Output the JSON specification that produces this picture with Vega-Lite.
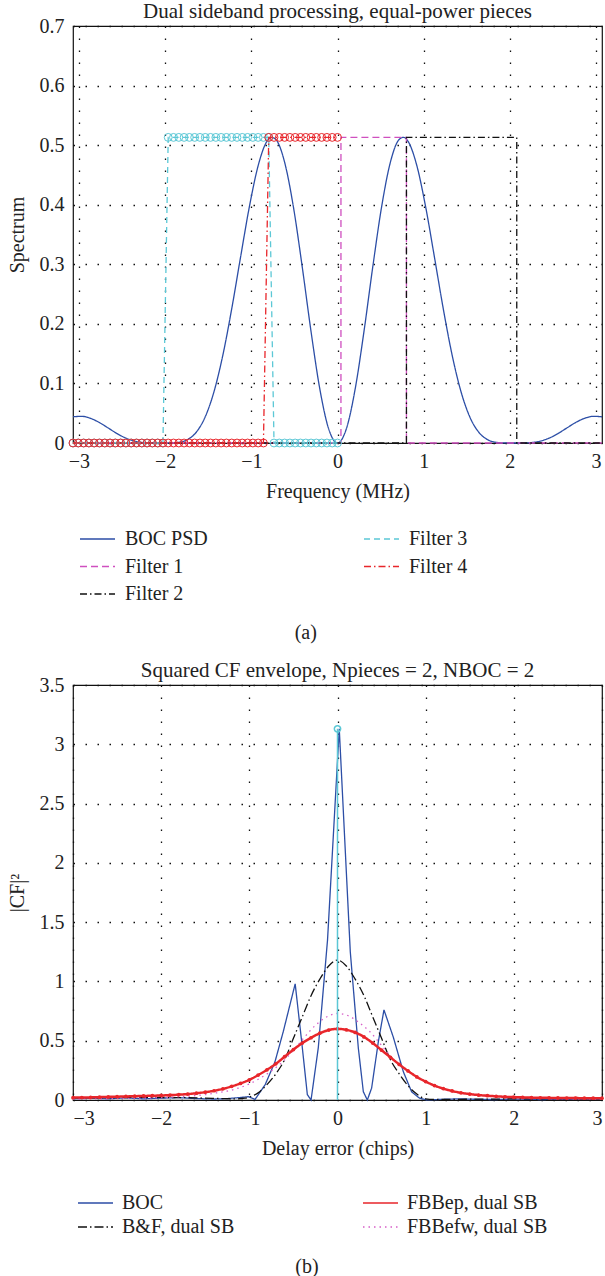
{
  "$schema": "https://vega.github.io/schema/vega-lite/v6.json",
  "padding": {"left": 6, "top": 0, "right": 0, "bottom": 0},
  "background": "white",
  "spacing": 16,
  "config": {
    "font": "Liberation Serif, DejaVu Serif, serif",
    "view": {"stroke": "#111", "strokeWidth": 1.2},
    "axis": {"labelFont": "Liberation Serif, DejaVu Serif, serif", "labelFontSize": 20, "labelColor": "#222", "titleFont": "Liberation Serif, DejaVu Serif, serif", "titleFontSize": 20, "titleFontWeight": "normal", "titleColor": "#222", "grid": true, "gridColor": "#111", "gridDash": [1.5, 10.5], "gridWidth": 1.3, "domain": false, "ticks": false},
    "axisX": {"labelPadding": 8, "titlePadding": 10},
    "axisY": {"labelPadding": 9, "titlePadding": 12},
    "title": {"font": "Liberation Serif, DejaVu Serif, serif", "fontSize": 21, "fontWeight": "normal", "color": "#222", "frame": "group"},
    "legend": {"orient": "none", "columns": 2, "symbolType": "M-1,0H6", "symbolSize": 100, "symbolStrokeWidth": 1.3, "labelFont": "Liberation Serif, DejaVu Serif, serif", "labelFontSize": 20, "labelColor": "#222", "padding": 0}
  },
  "datasets": {
    "psd": [
      {"series": "BOC PSD", "f": -3.069, "s": 0.044},
      {"series": "BOC PSD", "f": -2.9667, "s": 0.0448},
      {"series": "BOC PSD", "f": -2.8644, "s": 0.0413},
      {"series": "BOC PSD", "f": -2.7621, "s": 0.0343},
      {"series": "BOC PSD", "f": -2.6598, "s": 0.0251},
      {"series": "BOC PSD", "f": -2.5575, "s": 0.0158},
      {"series": "BOC PSD", "f": -2.4552, "s": 0.0082},
      {"series": "BOC PSD", "f": -2.3529, "s": 0.0032},
      {"series": "BOC PSD", "f": -2.2506, "s": 0.0007},
      {"series": "BOC PSD", "f": -2.1483, "s": 0.0001},
      {"series": "BOC PSD", "f": -2.046, "s": 0},
      {"series": "BOC PSD", "f": -1.9437, "s": 0.0001},
      {"series": "BOC PSD", "f": -1.8414, "s": 0.0011},
      {"series": "BOC PSD", "f": -1.7391, "s": 0.0058},
      {"series": "BOC PSD", "f": -1.6368, "s": 0.0185},
      {"series": "BOC PSD", "f": -1.5345, "s": 0.044},
      {"series": "BOC PSD", "f": -1.4322, "s": 0.0866},
      {"series": "BOC PSD", "f": -1.3299, "s": 0.1477},
      {"series": "BOC PSD", "f": -1.2276, "s": 0.2251},
      {"series": "BOC PSD", "f": -1.1253, "s": 0.3116},
      {"series": "BOC PSD", "f": -1.023, "s": 0.3962},
      {"series": "BOC PSD", "f": -0.9207, "s": 0.4655},
      {"series": "BOC PSD", "f": -0.8184, "s": 0.5065},
      {"series": "BOC PSD", "f": -0.7673, "s": 0.5131},
      {"series": "BOC PSD", "f": -0.7161, "s": 0.5096},
      {"series": "BOC PSD", "f": -0.6138, "s": 0.4714},
      {"series": "BOC PSD", "f": -0.5115, "s": 0.3962},
      {"series": "BOC PSD", "f": -0.4092, "s": 0.2956},
      {"series": "BOC PSD", "f": -0.3069, "s": 0.187},
      {"series": "BOC PSD", "f": -0.2046, "s": 0.0903},
      {"series": "BOC PSD", "f": -0.1023, "s": 0.0237},
      {"series": "BOC PSD", "f": 0, "s": 0},
      {"series": "BOC PSD", "f": 0.1023, "s": 0.0237},
      {"series": "BOC PSD", "f": 0.2046, "s": 0.0903},
      {"series": "BOC PSD", "f": 0.3069, "s": 0.187},
      {"series": "BOC PSD", "f": 0.4092, "s": 0.2956},
      {"series": "BOC PSD", "f": 0.5115, "s": 0.3962},
      {"series": "BOC PSD", "f": 0.6138, "s": 0.4714},
      {"series": "BOC PSD", "f": 0.7161, "s": 0.5096},
      {"series": "BOC PSD", "f": 0.7673, "s": 0.5131},
      {"series": "BOC PSD", "f": 0.8184, "s": 0.5065},
      {"series": "BOC PSD", "f": 0.9207, "s": 0.4655},
      {"series": "BOC PSD", "f": 1.023, "s": 0.3962},
      {"series": "BOC PSD", "f": 1.1253, "s": 0.3116},
      {"series": "BOC PSD", "f": 1.2276, "s": 0.2251},
      {"series": "BOC PSD", "f": 1.3299, "s": 0.1477},
      {"series": "BOC PSD", "f": 1.4322, "s": 0.0866},
      {"series": "BOC PSD", "f": 1.5345, "s": 0.044},
      {"series": "BOC PSD", "f": 1.6368, "s": 0.0185},
      {"series": "BOC PSD", "f": 1.7391, "s": 0.0058},
      {"series": "BOC PSD", "f": 1.8414, "s": 0.0011},
      {"series": "BOC PSD", "f": 1.9437, "s": 0.0001},
      {"series": "BOC PSD", "f": 2.046, "s": 0},
      {"series": "BOC PSD", "f": 2.1483, "s": 0.0001},
      {"series": "BOC PSD", "f": 2.2506, "s": 0.0007},
      {"series": "BOC PSD", "f": 2.3529, "s": 0.0032},
      {"series": "BOC PSD", "f": 2.4552, "s": 0.0082},
      {"series": "BOC PSD", "f": 2.5575, "s": 0.0158},
      {"series": "BOC PSD", "f": 2.6598, "s": 0.0251},
      {"series": "BOC PSD", "f": 2.7621, "s": 0.0343},
      {"series": "BOC PSD", "f": 2.8644, "s": 0.0413},
      {"series": "BOC PSD", "f": 2.9667, "s": 0.0448},
      {"series": "BOC PSD", "f": 3.069, "s": 0.044},
      {"series": "Filter 1", "f": -3.069, "s": 0},
      {"series": "Filter 1", "f": 0.04, "s": 0},
      {"series": "Filter 1", "f": 0.0401, "s": 0.513},
      {"series": "Filter 1", "f": 0.7999, "s": 0.513},
      {"series": "Filter 1", "f": 0.8, "s": 0},
      {"series": "Filter 1", "f": 3.069, "s": 0},
      {"series": "Filter 2", "f": -3.069, "s": 0},
      {"series": "Filter 2", "f": 0.7999, "s": 0},
      {"series": "Filter 2", "f": 0.8, "s": 0.513},
      {"series": "Filter 2", "f": 2.0799, "s": 0.513},
      {"series": "Filter 2", "f": 2.08, "s": 0},
      {"series": "Filter 2", "f": 3.069, "s": 0},
      {"series": "Filter 3", "f": -3.069, "s": 0},
      {"series": "Filter 3", "f": -3.0076, "s": 0},
      {"series": "Filter 3", "f": -2.9462, "s": 0},
      {"series": "Filter 3", "f": -2.8849, "s": 0},
      {"series": "Filter 3", "f": -2.8235, "s": 0},
      {"series": "Filter 3", "f": -2.7621, "s": 0},
      {"series": "Filter 3", "f": -2.7007, "s": 0},
      {"series": "Filter 3", "f": -2.6393, "s": 0},
      {"series": "Filter 3", "f": -2.578, "s": 0},
      {"series": "Filter 3", "f": -2.5166, "s": 0},
      {"series": "Filter 3", "f": -2.4552, "s": 0},
      {"series": "Filter 3", "f": -2.3938, "s": 0},
      {"series": "Filter 3", "f": -2.3324, "s": 0},
      {"series": "Filter 3", "f": -2.2711, "s": 0},
      {"series": "Filter 3", "f": -2.2097, "s": 0},
      {"series": "Filter 3", "f": -2.1483, "s": 0},
      {"series": "Filter 3", "f": -2.0869, "s": 0},
      {"series": "Filter 3", "f": -2.0255, "s": 0},
      {"series": "Filter 3", "f": -1.9642, "s": 0.513},
      {"series": "Filter 3", "f": -1.9028, "s": 0.513},
      {"series": "Filter 3", "f": -1.8414, "s": 0.513},
      {"series": "Filter 3", "f": -1.78, "s": 0.513},
      {"series": "Filter 3", "f": -1.7186, "s": 0.513},
      {"series": "Filter 3", "f": -1.6573, "s": 0.513},
      {"series": "Filter 3", "f": -1.5959, "s": 0.513},
      {"series": "Filter 3", "f": -1.5345, "s": 0.513},
      {"series": "Filter 3", "f": -1.4731, "s": 0.513},
      {"series": "Filter 3", "f": -1.4117, "s": 0.513},
      {"series": "Filter 3", "f": -1.3504, "s": 0.513},
      {"series": "Filter 3", "f": -1.289, "s": 0.513},
      {"series": "Filter 3", "f": -1.2276, "s": 0.513},
      {"series": "Filter 3", "f": -1.1662, "s": 0.513},
      {"series": "Filter 3", "f": -1.1048, "s": 0.513},
      {"series": "Filter 3", "f": -1.0435, "s": 0.513},
      {"series": "Filter 3", "f": -0.9821, "s": 0.513},
      {"series": "Filter 3", "f": -0.9207, "s": 0.513},
      {"series": "Filter 3", "f": -0.8593, "s": 0.513},
      {"series": "Filter 3", "f": -0.7979, "s": 0.513},
      {"series": "Filter 3", "f": -0.7366, "s": 0},
      {"series": "Filter 3", "f": -0.6752, "s": 0},
      {"series": "Filter 3", "f": -0.6138, "s": 0},
      {"series": "Filter 3", "f": -0.5524, "s": 0},
      {"series": "Filter 3", "f": -0.491, "s": 0},
      {"series": "Filter 3", "f": -0.4297, "s": 0},
      {"series": "Filter 3", "f": -0.3683, "s": 0},
      {"series": "Filter 3", "f": -0.3069, "s": 0},
      {"series": "Filter 3", "f": -0.2455, "s": 0},
      {"series": "Filter 3", "f": -0.1841, "s": 0},
      {"series": "Filter 3", "f": -0.1228, "s": 0},
      {"series": "Filter 3", "f": -0.0614, "s": 0},
      {"series": "Filter 3", "f": 0, "s": 0},
      {"series": "Filter 4", "f": -3.069, "s": 0},
      {"series": "Filter 4", "f": -3.0076, "s": 0},
      {"series": "Filter 4", "f": -2.9462, "s": 0},
      {"series": "Filter 4", "f": -2.8849, "s": 0},
      {"series": "Filter 4", "f": -2.8235, "s": 0},
      {"series": "Filter 4", "f": -2.7621, "s": 0},
      {"series": "Filter 4", "f": -2.7007, "s": 0},
      {"series": "Filter 4", "f": -2.6393, "s": 0},
      {"series": "Filter 4", "f": -2.578, "s": 0},
      {"series": "Filter 4", "f": -2.5166, "s": 0},
      {"series": "Filter 4", "f": -2.4552, "s": 0},
      {"series": "Filter 4", "f": -2.3938, "s": 0},
      {"series": "Filter 4", "f": -2.3324, "s": 0},
      {"series": "Filter 4", "f": -2.2711, "s": 0},
      {"series": "Filter 4", "f": -2.2097, "s": 0},
      {"series": "Filter 4", "f": -2.1483, "s": 0},
      {"series": "Filter 4", "f": -2.0869, "s": 0},
      {"series": "Filter 4", "f": -2.0255, "s": 0},
      {"series": "Filter 4", "f": -1.9642, "s": 0},
      {"series": "Filter 4", "f": -1.9028, "s": 0},
      {"series": "Filter 4", "f": -1.8414, "s": 0},
      {"series": "Filter 4", "f": -1.78, "s": 0},
      {"series": "Filter 4", "f": -1.7186, "s": 0},
      {"series": "Filter 4", "f": -1.6573, "s": 0},
      {"series": "Filter 4", "f": -1.5959, "s": 0},
      {"series": "Filter 4", "f": -1.5345, "s": 0},
      {"series": "Filter 4", "f": -1.4731, "s": 0},
      {"series": "Filter 4", "f": -1.4117, "s": 0},
      {"series": "Filter 4", "f": -1.3504, "s": 0},
      {"series": "Filter 4", "f": -1.289, "s": 0},
      {"series": "Filter 4", "f": -1.2276, "s": 0},
      {"series": "Filter 4", "f": -1.1662, "s": 0},
      {"series": "Filter 4", "f": -1.1048, "s": 0},
      {"series": "Filter 4", "f": -1.0435, "s": 0},
      {"series": "Filter 4", "f": -0.9821, "s": 0},
      {"series": "Filter 4", "f": -0.9207, "s": 0},
      {"series": "Filter 4", "f": -0.8593, "s": 0},
      {"series": "Filter 4", "f": -0.7979, "s": 0.513},
      {"series": "Filter 4", "f": -0.7366, "s": 0.513},
      {"series": "Filter 4", "f": -0.6752, "s": 0.513},
      {"series": "Filter 4", "f": -0.6138, "s": 0.513},
      {"series": "Filter 4", "f": -0.5524, "s": 0.513},
      {"series": "Filter 4", "f": -0.491, "s": 0.513},
      {"series": "Filter 4", "f": -0.4297, "s": 0.513},
      {"series": "Filter 4", "f": -0.3683, "s": 0.513},
      {"series": "Filter 4", "f": -0.3069, "s": 0.513},
      {"series": "Filter 4", "f": -0.2455, "s": 0.513},
      {"series": "Filter 4", "f": -0.1841, "s": 0.513},
      {"series": "Filter 4", "f": -0.1228, "s": 0.513},
      {"series": "Filter 4", "f": -0.0614, "s": 0.513},
      {"series": "Filter 4", "f": 0, "s": 0.513}
    ],
    "cf": [
      {"series": "BOC", "t": -3.0, "v": 0.01},
      {"series": "BOC", "t": -2.8, "v": 0.015},
      {"series": "BOC", "t": -2.6, "v": 0.01},
      {"series": "BOC", "t": -2.4, "v": 0.018},
      {"series": "BOC", "t": -2.2, "v": 0.01},
      {"series": "BOC", "t": -2.0, "v": 0.016},
      {"series": "BOC", "t": -1.8, "v": 0.02},
      {"series": "BOC", "t": -1.6, "v": 0.012},
      {"series": "BOC", "t": -1.4, "v": 0.008},
      {"series": "BOC", "t": -1.25, "v": 0.012},
      {"series": "BOC", "t": -1.12, "v": 0.02},
      {"series": "BOC", "t": -1.01, "v": 0.028},
      {"series": "BOC", "t": -0.935, "v": 0.005},
      {"series": "BOC", "t": -0.82, "v": 0.13},
      {"series": "BOC", "t": -0.71, "v": 0.32},
      {"series": "BOC", "t": -0.614, "v": 0.58},
      {"series": "BOC", "t": -0.48, "v": 0.98},
      {"series": "BOC", "t": -0.406, "v": 0.49},
      {"series": "BOC", "t": -0.342, "v": 0.045},
      {"series": "BOC", "t": -0.3, "v": 0.0},
      {"series": "BOC", "t": -0.218, "v": 0.44},
      {"series": "BOC", "t": -0.113, "v": 1.35},
      {"series": "BOC", "t": 0.02, "v": 3.13},
      {"series": "BOC", "t": 0.145, "v": 1.25},
      {"series": "BOC", "t": 0.236, "v": 0.44},
      {"series": "BOC", "t": 0.293, "v": 0.07},
      {"series": "BOC", "t": 0.338, "v": 0.0},
      {"series": "BOC", "t": 0.387, "v": 0.1},
      {"series": "BOC", "t": 0.463, "v": 0.49},
      {"series": "BOC", "t": 0.527, "v": 0.76},
      {"series": "BOC", "t": 0.633, "v": 0.53},
      {"series": "BOC", "t": 0.746, "v": 0.24},
      {"series": "BOC", "t": 0.84, "v": 0.07},
      {"series": "BOC", "t": 0.93, "v": 0.015},
      {"series": "BOC", "t": 1.01, "v": 0.0},
      {"series": "BOC", "t": 1.2, "v": 0.006},
      {"series": "BOC", "t": 1.4, "v": 0.01},
      {"series": "BOC", "t": 1.6, "v": 0.005},
      {"series": "BOC", "t": 1.8, "v": 0.004},
      {"series": "BOC", "t": 2.0, "v": 0.008},
      {"series": "BOC", "t": 2.3, "v": 0.004},
      {"series": "BOC", "t": 2.6, "v": 0.006},
      {"series": "BOC", "t": 3.0, "v": 0.005},
      {"series": "B&F, dual SB", "t": -3.0, "v": 0.02},
      {"series": "B&F, dual SB", "t": -2.6, "v": 0.02},
      {"series": "B&F, dual SB", "t": -2.2, "v": 0.022},
      {"series": "B&F, dual SB", "t": -1.8, "v": 0.02},
      {"series": "B&F, dual SB", "t": -1.5, "v": 0.016},
      {"series": "B&F, dual SB", "t": -1.3, "v": 0.012},
      {"series": "B&F, dual SB", "t": -1.15, "v": 0.01},
      {"series": "B&F, dual SB", "t": -1.05, "v": 0.015},
      {"series": "B&F, dual SB", "t": -1.0, "v": 0.025},
      {"series": "B&F, dual SB", "t": -0.9, "v": 0.06},
      {"series": "B&F, dual SB", "t": -0.8, "v": 0.13},
      {"series": "B&F, dual SB", "t": -0.7, "v": 0.22},
      {"series": "B&F, dual SB", "t": -0.6, "v": 0.34},
      {"series": "B&F, dual SB", "t": -0.5, "v": 0.52},
      {"series": "B&F, dual SB", "t": -0.4, "v": 0.7},
      {"series": "B&F, dual SB", "t": -0.3, "v": 0.88},
      {"series": "B&F, dual SB", "t": -0.2, "v": 1.02},
      {"series": "B&F, dual SB", "t": -0.1, "v": 1.13},
      {"series": "B&F, dual SB", "t": 0.0, "v": 1.18},
      {"series": "B&F, dual SB", "t": 0.1, "v": 1.13},
      {"series": "B&F, dual SB", "t": 0.2, "v": 1.02},
      {"series": "B&F, dual SB", "t": 0.3, "v": 0.88},
      {"series": "B&F, dual SB", "t": 0.4, "v": 0.7},
      {"series": "B&F, dual SB", "t": 0.5, "v": 0.52},
      {"series": "B&F, dual SB", "t": 0.6, "v": 0.34},
      {"series": "B&F, dual SB", "t": 0.7, "v": 0.22},
      {"series": "B&F, dual SB", "t": 0.8, "v": 0.12},
      {"series": "B&F, dual SB", "t": 0.9, "v": 0.05},
      {"series": "B&F, dual SB", "t": 1.0, "v": 0.01},
      {"series": "B&F, dual SB", "t": 1.1, "v": 0.004},
      {"series": "B&F, dual SB", "t": 1.4, "v": 0.006},
      {"series": "B&F, dual SB", "t": 1.8, "v": 0.008},
      {"series": "B&F, dual SB", "t": 2.2, "v": 0.01},
      {"series": "B&F, dual SB", "t": 2.6, "v": 0.012},
      {"series": "B&F, dual SB", "t": 3.0, "v": 0.012},
      {"series": "FBBefw, dual SB", "t": -3.0, "v": 0.008},
      {"series": "FBBefw, dual SB", "t": -2.5, "v": 0.012},
      {"series": "FBBefw, dual SB", "t": -2.25, "v": 0.016},
      {"series": "FBBefw, dual SB", "t": -2.0, "v": 0.02},
      {"series": "FBBefw, dual SB", "t": -1.75, "v": 0.03},
      {"series": "FBBefw, dual SB", "t": -1.5, "v": 0.045},
      {"series": "FBBefw, dual SB", "t": -1.375, "v": 0.06},
      {"series": "FBBefw, dual SB", "t": -1.25, "v": 0.075},
      {"series": "FBBefw, dual SB", "t": -1.125, "v": 0.1},
      {"series": "FBBefw, dual SB", "t": -1.0, "v": 0.135},
      {"series": "FBBefw, dual SB", "t": -0.875, "v": 0.185},
      {"series": "FBBefw, dual SB", "t": -0.75, "v": 0.245},
      {"series": "FBBefw, dual SB", "t": -0.625, "v": 0.32},
      {"series": "FBBefw, dual SB", "t": -0.5, "v": 0.42},
      {"series": "FBBefw, dual SB", "t": -0.375, "v": 0.53},
      {"series": "FBBefw, dual SB", "t": -0.25, "v": 0.63},
      {"series": "FBBefw, dual SB", "t": -0.125, "v": 0.7},
      {"series": "FBBefw, dual SB", "t": 0.0, "v": 0.73},
      {"series": "FBBefw, dual SB", "t": 0.125, "v": 0.71},
      {"series": "FBBefw, dual SB", "t": 0.25, "v": 0.65},
      {"series": "FBBefw, dual SB", "t": 0.375, "v": 0.57},
      {"series": "FBBefw, dual SB", "t": 0.5, "v": 0.46},
      {"series": "FBBefw, dual SB", "t": 0.625, "v": 0.35},
      {"series": "FBBefw, dual SB", "t": 0.75, "v": 0.27},
      {"series": "FBBefw, dual SB", "t": 0.875, "v": 0.21},
      {"series": "FBBefw, dual SB", "t": 1.0, "v": 0.155},
      {"series": "FBBefw, dual SB", "t": 1.125, "v": 0.11},
      {"series": "FBBefw, dual SB", "t": 1.25, "v": 0.08},
      {"series": "FBBefw, dual SB", "t": 1.375, "v": 0.06},
      {"series": "FBBefw, dual SB", "t": 1.5, "v": 0.045},
      {"series": "FBBefw, dual SB", "t": 1.75, "v": 0.03},
      {"series": "FBBefw, dual SB", "t": 2.0, "v": 0.02},
      {"series": "FBBefw, dual SB", "t": 2.25, "v": 0.015},
      {"series": "FBBefw, dual SB", "t": 2.5, "v": 0.012},
      {"series": "FBBefw, dual SB", "t": 3.0, "v": 0.008},
      {"series": "FBBep, dual SB", "t": -3.0, "v": 0.02},
      {"series": "FBBep, dual SB", "t": -2.9, "v": 0.021},
      {"series": "FBBep, dual SB", "t": -2.8, "v": 0.022},
      {"series": "FBBep, dual SB", "t": -2.7, "v": 0.024},
      {"series": "FBBep, dual SB", "t": -2.6, "v": 0.026},
      {"series": "FBBep, dual SB", "t": -2.5, "v": 0.028},
      {"series": "FBBep, dual SB", "t": -2.4, "v": 0.03},
      {"series": "FBBep, dual SB", "t": -2.3, "v": 0.032},
      {"series": "FBBep, dual SB", "t": -2.2, "v": 0.034},
      {"series": "FBBep, dual SB", "t": -2.1, "v": 0.036},
      {"series": "FBBep, dual SB", "t": -2.0, "v": 0.038},
      {"series": "FBBep, dual SB", "t": -1.9, "v": 0.041},
      {"series": "FBBep, dual SB", "t": -1.8, "v": 0.045},
      {"series": "FBBep, dual SB", "t": -1.7, "v": 0.05},
      {"series": "FBBep, dual SB", "t": -1.6, "v": 0.057},
      {"series": "FBBep, dual SB", "t": -1.5, "v": 0.066},
      {"series": "FBBep, dual SB", "t": -1.4, "v": 0.078},
      {"series": "FBBep, dual SB", "t": -1.3, "v": 0.094},
      {"series": "FBBep, dual SB", "t": -1.2, "v": 0.115},
      {"series": "FBBep, dual SB", "t": -1.1, "v": 0.14},
      {"series": "FBBep, dual SB", "t": -1.0, "v": 0.17},
      {"series": "FBBep, dual SB", "t": -0.9, "v": 0.21},
      {"series": "FBBep, dual SB", "t": -0.8, "v": 0.255},
      {"series": "FBBep, dual SB", "t": -0.7, "v": 0.305},
      {"series": "FBBep, dual SB", "t": -0.6, "v": 0.365},
      {"series": "FBBep, dual SB", "t": -0.5, "v": 0.425},
      {"series": "FBBep, dual SB", "t": -0.4, "v": 0.48},
      {"series": "FBBep, dual SB", "t": -0.3, "v": 0.525},
      {"series": "FBBep, dual SB", "t": -0.2, "v": 0.563},
      {"series": "FBBep, dual SB", "t": -0.1, "v": 0.59},
      {"series": "FBBep, dual SB", "t": 0.0, "v": 0.6},
      {"series": "FBBep, dual SB", "t": 0.1, "v": 0.592},
      {"series": "FBBep, dual SB", "t": 0.2, "v": 0.57},
      {"series": "FBBep, dual SB", "t": 0.3, "v": 0.532},
      {"series": "FBBep, dual SB", "t": 0.4, "v": 0.48},
      {"series": "FBBep, dual SB", "t": 0.5, "v": 0.42},
      {"series": "FBBep, dual SB", "t": 0.6, "v": 0.36},
      {"series": "FBBep, dual SB", "t": 0.7, "v": 0.3},
      {"series": "FBBep, dual SB", "t": 0.8, "v": 0.245},
      {"series": "FBBep, dual SB", "t": 0.9, "v": 0.195},
      {"series": "FBBep, dual SB", "t": 1.0, "v": 0.155},
      {"series": "FBBep, dual SB", "t": 1.1, "v": 0.122},
      {"series": "FBBep, dual SB", "t": 1.2, "v": 0.096},
      {"series": "FBBep, dual SB", "t": 1.3, "v": 0.076},
      {"series": "FBBep, dual SB", "t": 1.4, "v": 0.061},
      {"series": "FBBep, dual SB", "t": 1.5, "v": 0.05},
      {"series": "FBBep, dual SB", "t": 1.6, "v": 0.042},
      {"series": "FBBep, dual SB", "t": 1.7, "v": 0.036},
      {"series": "FBBep, dual SB", "t": 1.8, "v": 0.031},
      {"series": "FBBep, dual SB", "t": 1.9, "v": 0.027},
      {"series": "FBBep, dual SB", "t": 2.0, "v": 0.024},
      {"series": "FBBep, dual SB", "t": 2.1, "v": 0.022},
      {"series": "FBBep, dual SB", "t": 2.2, "v": 0.02},
      {"series": "FBBep, dual SB", "t": 2.3, "v": 0.019},
      {"series": "FBBep, dual SB", "t": 2.4, "v": 0.018},
      {"series": "FBBep, dual SB", "t": 2.5, "v": 0.017},
      {"series": "FBBep, dual SB", "t": 2.6, "v": 0.016},
      {"series": "FBBep, dual SB", "t": 2.7, "v": 0.016},
      {"series": "FBBep, dual SB", "t": 2.8, "v": 0.015},
      {"series": "FBBep, dual SB", "t": 2.9, "v": 0.015},
      {"series": "FBBep, dual SB", "t": 3.0, "v": 0.015}
    ],
    "stem": [{"t": 0, "v": 3.13}]
  },
  "resolve": {"scale": {"color": "independent", "strokeDash": "independent"}, "legend": {"color": "independent", "strokeDash": "independent"}},
  "vconcat": [
    {
      "title": {"text": "(a)", "orient": "bottom", "anchor": "middle", "frame": "bounds", "offset": 19, "fontSize": 20},
      "vconcat": [
        {
          "width": 529,
          "height": 417,
          "title": {"text": "Dual sideband processing, equal-power pieces", "offset": -6},
          "data": {"name": "psd"},
          "encoding": {
            "x": {"field": "f", "type": "quantitative", "scale": {"domain": [-3.069, 3.069], "nice": false, "zero": false}, "axis": {"title": "Frequency (MHz)", "values": [-3, -2, -1, 0, 1, 2, 3], "format": "~g"}},
            "y": {"field": "s", "type": "quantitative", "scale": {"domain": [0, 0.7], "nice": false}, "axis": {"title": "Spectrum", "values": [0, 0.1, 0.2, 0.3, 0.4, 0.5, 0.6, 0.7], "format": "~g"}}
          },
          "layer": [
            {
              "transform": [{"filter": "datum.series == 'BOC PSD'"}],
              "mark": {"type": "line", "strokeWidth": 1.3, "interpolate": "monotone"},
              "encoding": {
                "color": {"field": "series", "type": "nominal", "title": null, "scale": {"domain": ["BOC PSD", "Filter 1", "Filter 2", "Filter 3", "Filter 4"], "range": ["#2c4ea6", "#cf4fbf", "#111111", "#5cc8d6", "#e8262b"]},
                  "legend": {"legendX": 2, "legendY": 503, "columnPadding": 151, "rowPadding": 7.5, "labelOffset": 30}},
                "strokeDash": {"field": "series", "type": "nominal", "title": null, "scale": {"domain": ["BOC PSD", "Filter 1", "Filter 2", "Filter 3", "Filter 4"], "range": [[1, 0], [7, 4], [7, 3, 1.5, 3], [6, 4], [7, 3, 1.5, 3]]}}
              }
            },
            {
              "transform": [{"filter": "datum.series != 'BOC PSD'"}],
              "mark": {"type": "line", "strokeWidth": 1.3},
              "encoding": {
                "color": {"field": "series", "type": "nominal", "title": null},
                "strokeDash": {"field": "series", "type": "nominal", "title": null}
              }
            },
            {
              "transform": [{"filter": "datum.series == 'Filter 3'"}],
              "mark": {"type": "point", "shape": "circle", "filled": false, "size": 62, "strokeWidth": 1, "color": "#5cc8d6", "opacity": 1}
            },
            {
              "transform": [{"filter": "datum.series == 'Filter 4'"}],
              "mark": {"type": "point", "shape": "circle", "filled": false, "size": 62, "strokeWidth": 1, "color": "#e8262b", "opacity": 1}
            }
          ]
        }
      ]
    },
    {
      "title": {"text": "(b)", "orient": "bottom", "anchor": "middle", "frame": "bounds", "offset": 20, "fontSize": 20},
      "vconcat": [
        {
          "width": 529,
          "height": 415,
          "title": {"text": "Squared CF envelope, Npieces = 2, NBOC = 2", "offset": -6},
          "encoding": {
            "x": {"field": "t", "type": "quantitative", "scale": {"domain": [-3, 3], "nice": false, "zero": false}, "axis": {"title": "Delay error (chips)", "values": [-3, -2, -1, 0, 1, 2, 3], "format": "~g"}},
            "y": {"field": "v", "type": "quantitative", "scale": {"domain": [0, 3.5], "nice": false}, "axis": {"title": "|CF|²", "values": [0, 0.5, 1, 1.5, 2, 2.5, 3, 3.5], "format": "~g"}}
          },
          "layer": [
            {
              "data": {"name": "cf"},
              "transform": [{"filter": "datum.series == 'BOC'"}],
              "mark": {"type": "line", "strokeWidth": 1.3},
              "encoding": {
                "color": {"field": "series", "type": "nominal", "title": null, "scale": {"domain": ["BOC", "B&F, dual SB", "FBBep, dual SB", "FBBefw, dual SB"], "range": ["#2c4ea6", "#111111", "#e8262b", "#d65fc8"]},
                  "legend": {"legendX": 0, "legendY": 508, "columnPadding": 123, "rowPadding": 4, "labelOffset": 29}},
                "strokeDash": {"field": "series", "type": "nominal", "title": null, "scale": {"domain": ["BOC", "B&F, dual SB", "FBBep, dual SB", "FBBefw, dual SB"], "range": [[1, 0], [9, 3, 1.5, 3], [1, 0], [1.5, 4]]}}
              }
            },
            {
              "data": {"name": "cf"},
              "transform": [{"filter": "datum.series != 'BOC' && datum.series != 'FBBep, dual SB'"}],
              "mark": {"type": "line", "strokeWidth": 1.3, "interpolate": "monotone"},
              "encoding": {
                "color": {"field": "series", "type": "nominal", "title": null},
                "strokeDash": {"field": "series", "type": "nominal", "title": null}
              }
            },
            {
              "data": {"name": "cf"},
              "transform": [{"filter": "datum.series == 'FBBep, dual SB'"}],
              "mark": {"type": "line", "strokeWidth": 2.5, "interpolate": "monotone"},
              "encoding": {
                "color": {"field": "series", "type": "nominal", "title": null},
                "strokeDash": {"field": "series", "type": "nominal", "title": null}
              }
            },
            {
              "data": {"name": "cf"},
              "transform": [{"filter": "datum.series == 'FBBep, dual SB'"}],
              "mark": {"type": "point", "shape": "circle", "filled": true, "size": 14, "color": "#e8262b", "opacity": 1}
            },
            {
              "data": {"name": "stem"},
              "mark": {"type": "rule", "color": "#5cc8d6", "strokeWidth": 1.5},
              "encoding": {"y2": {"datum": 0}}
            },
            {
              "data": {"name": "stem"},
              "mark": {"type": "point", "shape": "circle", "filled": false, "size": 40, "strokeWidth": 1.5, "color": "#5cc8d6", "opacity": 1}
            }
          ]
        }
      ]
    }
  ]
}
